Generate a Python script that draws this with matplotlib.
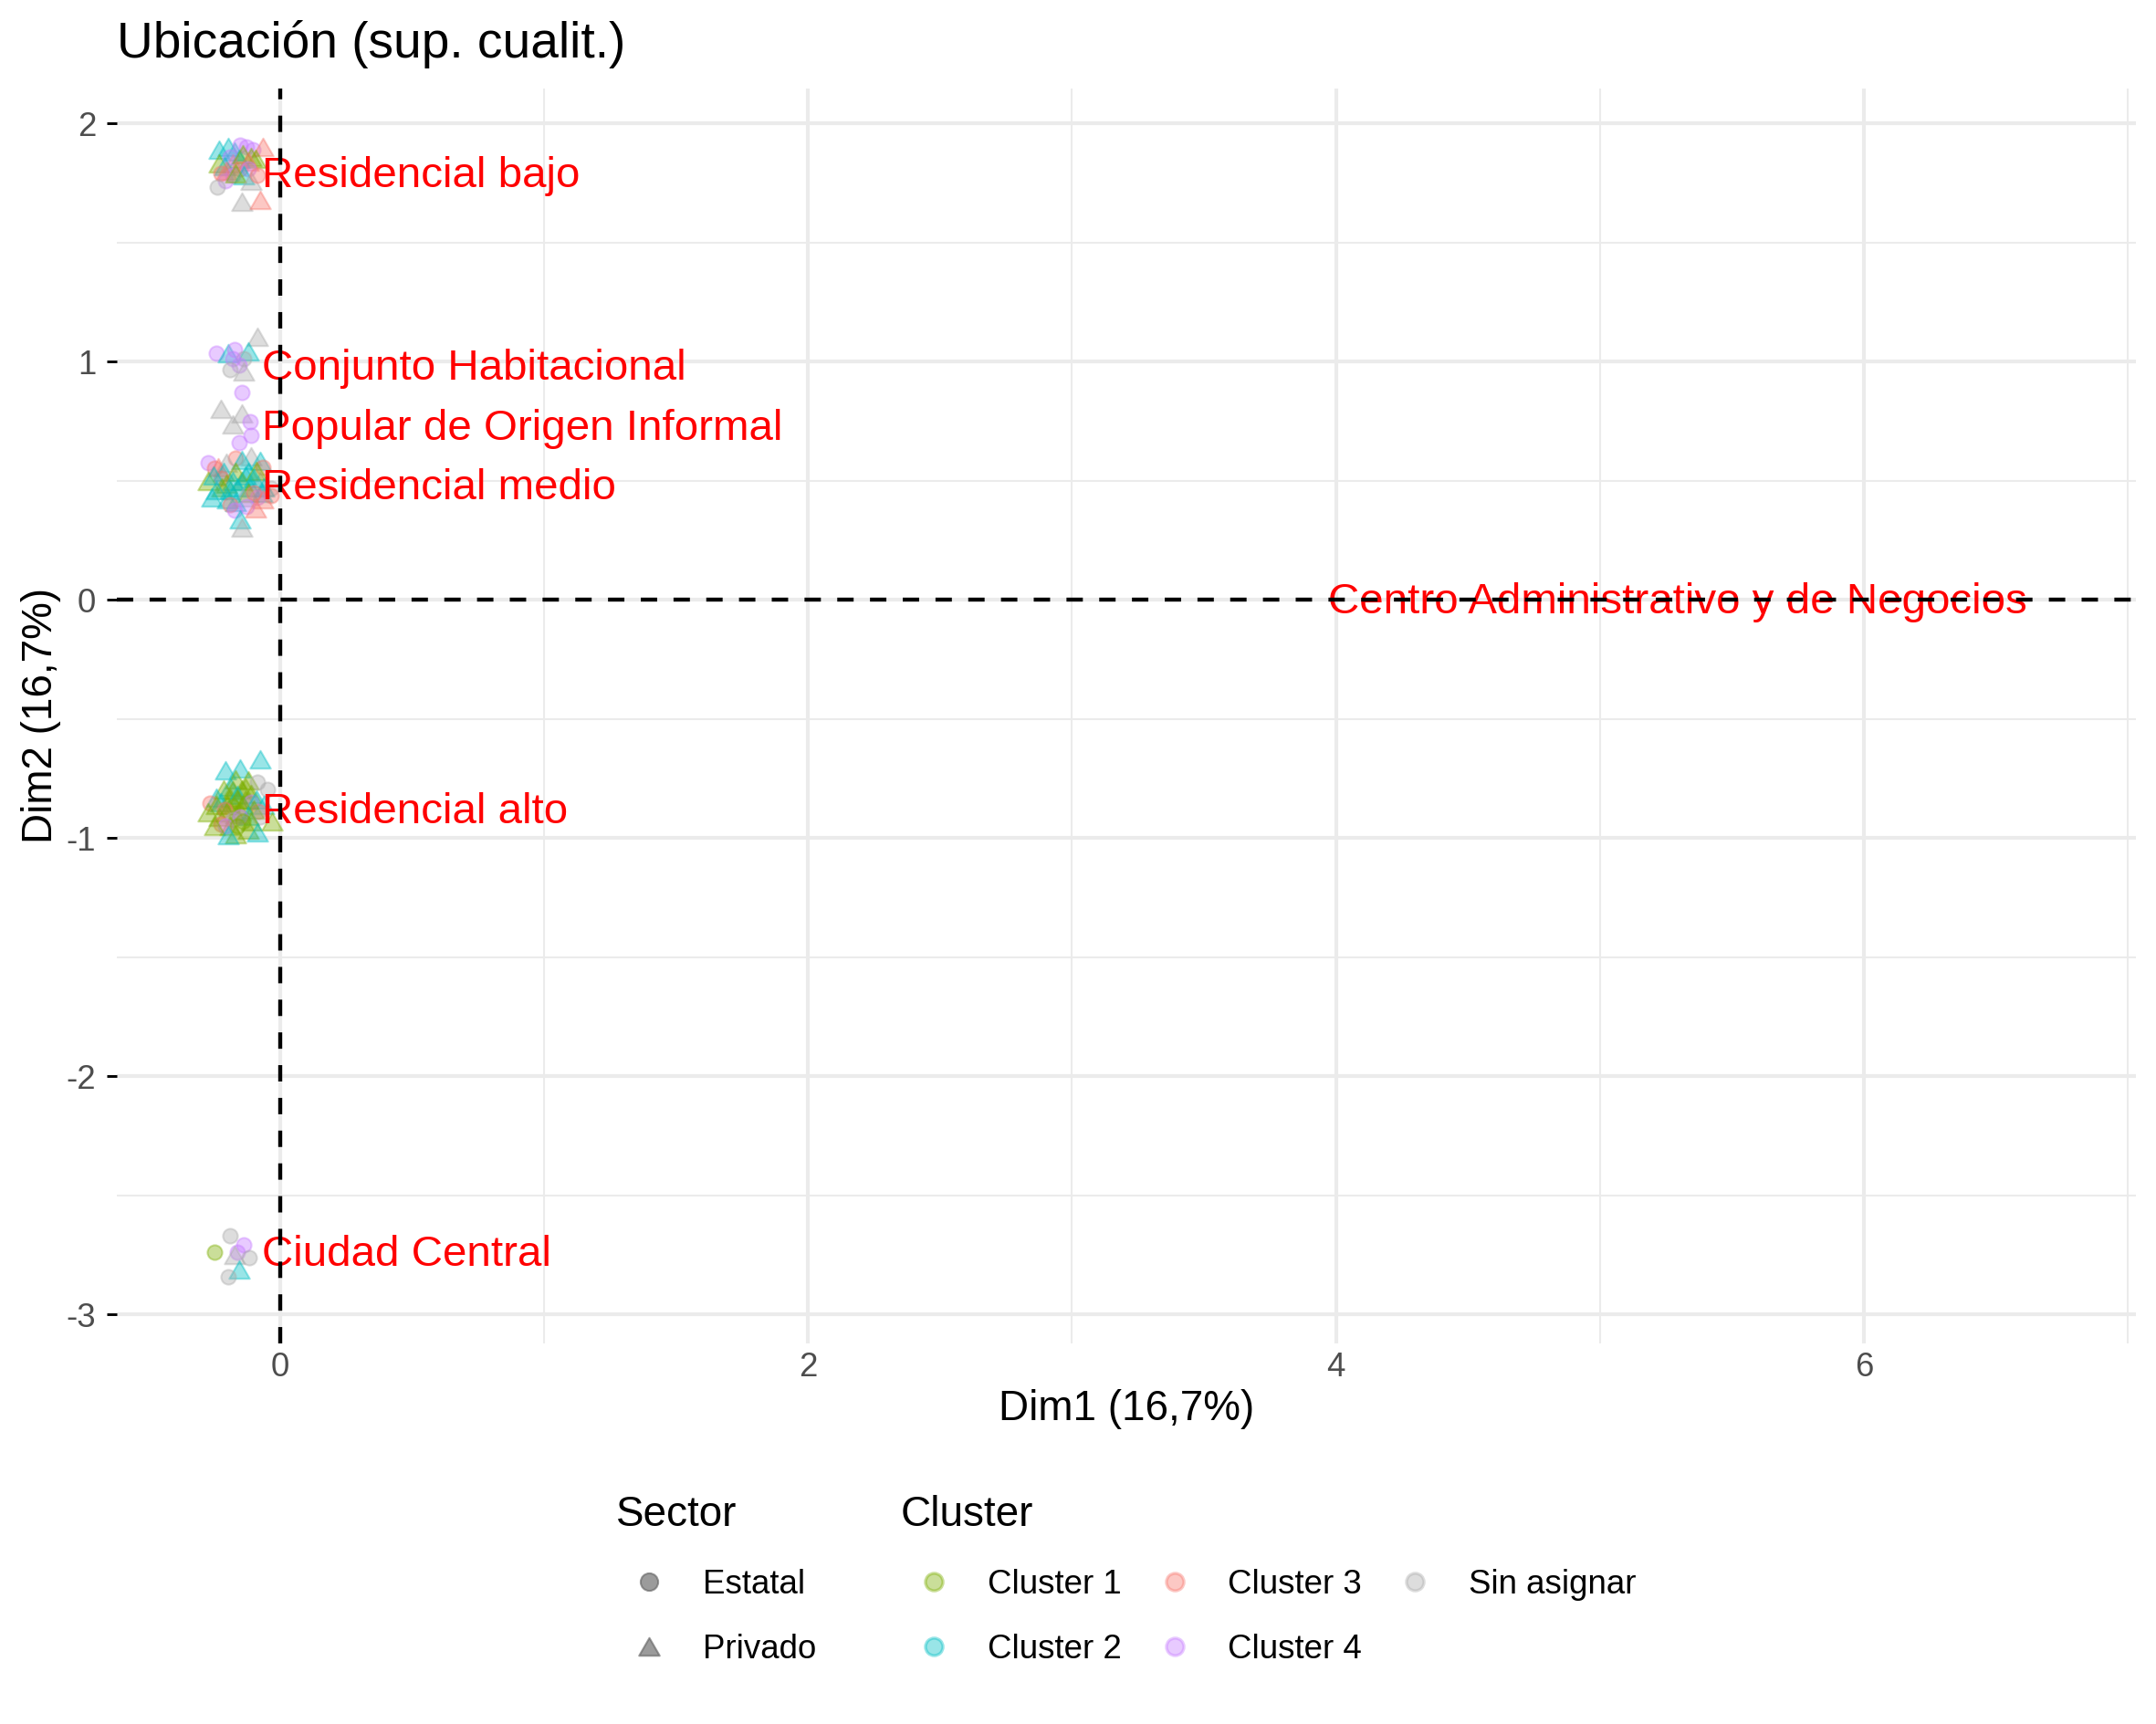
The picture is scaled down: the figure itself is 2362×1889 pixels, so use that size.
import matplotlib
matplotlib.use('Agg')
import matplotlib.pyplot as plt
from matplotlib.lines import Line2D
from matplotlib.path import Path
from matplotlib.ticker import MultipleLocator

plt.rcParams['font.family'] = ['Liberation Sans', 'DejaVu Sans']
plt.rcParams['axes.unicode_minus'] = False

# individuos: (dim1, dim2, cluster, sector)  cluster 0 = sin asignar
pts_bajo = [
    (-0.231, 1.89, 2, 'P'), (-0.196, 1.90, 2, 'P'), (-0.173, 1.88, 2, 'P'),
    (-0.150, 1.91, 4, 'E'), (-0.127, 1.90, 4, 'E'), (-0.104, 1.89, 4, 'E'),
    (-0.064, 1.90, 3, 'P'), (-0.231, 1.83, 1, 'P'), (-0.110, 1.86, 1, 'P'),
    (-0.092, 1.85, 1, 'P'), (-0.156, 1.85, 2, 'P'), (-0.179, 1.83, 3, 'P'),
    (-0.190, 1.86, 4, 'E'), (-0.140, 1.87, 1, 'P'), (-0.120, 1.84, 3, 'P'),
    (-0.210, 1.82, 2, 'P'),
    (-0.202, 1.80, 3, 'P'), (-0.150, 1.81, 3, 'E'), (-0.121, 1.81, 4, 'E'),
    (-0.179, 1.78, 4, 'E'), (-0.208, 1.76, 4, 'E'), (-0.225, 1.79, 3, 'E'),
    (-0.237, 1.73, 0, 'E'), (-0.144, 1.67, 0, 'P'), (-0.075, 1.68, 3, 'P'),
    (-0.138, 1.78, 2, 'P'), (-0.167, 1.79, 1, 'P'), (-0.110, 1.76, 0, 'P'),
    (-0.087, 1.78, 3, 'E'),
]
pts_habit = [
    (-0.086, 1.105, 0, 'P'), (-0.242, 1.035, 4, 'E'), (-0.196, 1.035, 2, 'P'),
    (-0.173, 1.048, 4, 'E'), (-0.121, 1.041, 2, 'P'), (-0.138, 1.010, 0, 'E'),
    (-0.180, 1.010, 4, 'E'), (-0.156, 0.984, 4, 'E'), (-0.190, 0.965, 0, 'E'),
    (-0.138, 0.958, 0, 'P'), (-0.144, 0.869, 4, 'E'), (-0.225, 0.799, 0, 'P'),
    (-0.144, 0.780, 0, 'P'), (-0.179, 0.735, 0, 'P'), (-0.115, 0.748, 4, 'E'),
    (-0.110, 0.690, 4, 'E'), (-0.156, 0.658, 4, 'E'), (-0.271, 0.575, 4, 'E'),
]
pts_medio = [
    (-0.167, 0.594, 3, 'E'), (-0.110, 0.601, 0, 'P'), (-0.144, 0.588, 2, 'P'),
    (-0.075, 0.582, 2, 'P'), (-0.202, 0.575, 0, 'P'), (-0.236, 0.556, 3, 'P'),
    (-0.248, 0.550, 3, 'E'), (-0.064, 0.556, 3, 'E'), (-0.213, 0.537, 2, 'P'),
    (-0.167, 0.537, 1, 'P'), (-0.121, 0.537, 2, 'P'), (-0.225, 0.511, 3, 'E'),
    (-0.271, 0.498, 1, 'P'), (-0.144, 0.498, 1, 'P'), (-0.075, 0.498, 0, 'P'),
    (-0.250, 0.520, 2, 'P'), (-0.130, 0.520, 2, 'P'), (-0.090, 0.540, 1, 'P'),
    (-0.202, 0.486, 1, 'P'), (-0.100, 0.510, 2, 'P'), (-0.180, 0.500, 2, 'P'),
    (-0.220, 0.470, 1, 'P'), (-0.160, 0.470, 2, 'P'), (-0.070, 0.450, 2, 'P'),
    (-0.115, 0.473, 2, 'P'), (-0.033, 0.467, 0, 'E'), (-0.242, 0.460, 2, 'P'),
    (-0.190, 0.460, 2, 'P'), (-0.121, 0.448, 1, 'P'), (-0.060, 0.470, 2, 'P'),
    (-0.035, 0.435, 3, 'E'), (-0.259, 0.429, 2, 'P'), (-0.086, 0.429, 4, 'E'),
    (-0.200, 0.420, 2, 'P'), (-0.140, 0.430, 0, 'P'),
    (-0.064, 0.422, 3, 'P'), (-0.100, 0.450, 3, 'E'), (-0.167, 0.409, 2, 'P'),
    (-0.190, 0.397, 3, 'E'), (-0.127, 0.390, 4, 'E'), (-0.092, 0.384, 3, 'P'),
    (-0.173, 0.377, 4, 'E'), (-0.150, 0.339, 2, 'P'), (-0.144, 0.301, 0, 'P'),
]
pts_alto = [
    (-0.075, -0.670, 2, 'P'), (-0.207, -0.715, 2, 'P'), (-0.150, -0.708, 2, 'P'),
    (-0.167, -0.753, 1, 'P'), (-0.121, -0.759, 1, 'P'), (-0.086, -0.766, 0, 'E'),
    (-0.046, -0.798, 0, 'E'), (-0.190, -0.785, 2, 'P'), (-0.213, -0.798, 1, 'P'),
    (-0.144, -0.798, 1, 'P'), (-0.110, -0.817, 1, 'P'), (-0.190, -0.830, 1, 'P'),
    (-0.130, -0.790, 1, 'P'), (-0.180, -0.800, 1, 'P'), (-0.240, -0.830, 2, 'P'),
    (-0.160, -0.820, 2, 'P'), (-0.130, -0.840, 1, 'P'), (-0.265, -0.855, 3, 'E'),
    (-0.225, -0.849, 2, 'P'), (-0.242, -0.862, 1, 'P'), (-0.110, -0.849, 4, 'E'),
    (-0.160, -0.840, 1, 'P'), (-0.090, -0.840, 2, 'P'), (-0.200, -0.860, 1, 'P'),
    (-0.179, -0.868, 1, 'E'), (-0.060, -0.860, 2, 'P'), (-0.081, -0.887, 3, 'E'),
    (-0.140, -0.860, 1, 'P'), (-0.210, -0.880, 3, 'E'), (-0.170, -0.900, 1, 'P'),
    (-0.271, -0.893, 1, 'P'), (-0.202, -0.893, 1, 'P'), (-0.150, -0.887, 1, 'P'),
    (-0.100, -0.880, 1, 'P'), (-0.121, -0.906, 2, 'P'), (-0.075, -0.912, 0, 'E'),
    (-0.230, -0.910, 1, 'P'), (-0.029, -0.932, 1, 'P'), (-0.179, -0.925, 0, 'E'),
    (-0.150, -0.910, 4, 'E'), (-0.110, -0.930, 1, 'P'), (-0.190, -0.950, 1, 'P'),
    (-0.140, -0.930, 1, 'E'), (-0.225, -0.944, 3, 'E'), (-0.207, -0.951, 4, 'E'),
    (-0.248, -0.951, 1, 'P'), (-0.161, -0.951, 1, 'E'), (-0.121, -0.964, 1, 'P'),
    (-0.167, -0.983, 1, 'P'), (-0.086, -0.977, 2, 'P'), (-0.196, -0.989, 2, 'P'),
]
pts_ciudad = [
    (-0.248, -2.741, 1, 'E'), (-0.190, -2.671, 0, 'E'), (-0.136, -2.707, 4, 'E'),
    (-0.161, -2.739, 4, 'E'), (-0.173, -2.752, 0, 'P'), (-0.118, -2.761, 0, 'E'),
    (-0.156, -2.812, 2, 'P'), (-0.196, -2.841, 0, 'E'),
]

# categorías suplementarias
sup_labels = ['Residencial bajo', 'Conjunto Habitacional', 'Popular de Origen Informal',
              'Residencial medio', 'Centro Administrativo y de Negocios',
              'Residencial alto', 'Ciudad Central']
sup_x = [-0.07, -0.07, -0.07, -0.07, 3.97, -0.07, -0.07]
sup_y = [1.789, 0.981, 0.727, 0.479, 0.0, -0.883, -2.741]

cluster_names = ['Cluster 1', 'Cluster 2', 'Cluster 3', 'Cluster 4', 'Sin asignar']
cluster_colors = {1: '#7CAE00', 2: '#00BFC4', 3: '#F8766D', 4: '#C77CFF', 0: '#AAAAAA'}
sector_names = ['Estatal', 'Privado']

tri = Path([(-1, -0.866), (1, -0.866), (0, 0.866), (-1, -0.866)],
           [Path.MOVETO, Path.LINETO, Path.LINETO, Path.CLOSEPOLY])
markers = {'E': 'o', 'P': tri}
sizes = {'E': 15, 'P': 29}

fig = plt.figure(figsize=(2362 / 300, 1889 / 300), dpi=300)
ax = fig.add_axes([0.0542, 0.2208, 0.9365, 0.7279])

for grupo in [pts_bajo, pts_habit, pts_medio, pts_alto, pts_ciudad]:
    for x, y, cl, sec in grupo:
        ax.scatter(x, y, s=sizes[sec], marker=markers[sec], color=cluster_colors[cl],
                   alpha=0.4, linewidths=0.5, zorder=3)

for lab, x, y in zip(sup_labels, sup_x, sup_y):
    ax.text(x, y - 0.01, lab, color='red', fontsize=11.4, ha='left', va='center', zorder=4)

ax.axhline(0, color='black', lw=1.05, linestyle=(0, (4.1, 4.1)), zorder=5)
ax.axvline(0, color='black', lw=1.05, linestyle=(0, (4.1, 4.1)), zorder=5)

ax.set_xlim(-0.618, 7.03)
ax.set_ylim(-3.122, 2.146)
ax.xaxis.set_major_locator(MultipleLocator(2))
ax.xaxis.set_minor_locator(MultipleLocator(1))
ax.yaxis.set_major_locator(MultipleLocator(1))
ax.yaxis.set_minor_locator(MultipleLocator(0.5))
ax.grid(which='major', color='#EBEBEB', lw=1.0)
ax.grid(which='minor', color='#EBEBEB', lw=0.5)
ax.set_axisbelow(True)
for s in ax.spines.values():
    s.set_visible(False)
ax.tick_params(axis='x', which='both', length=0, pad=2.2, labelsize=8.8, labelcolor='#4D4D4D')
ax.tick_params(axis='y', which='major', length=2.75, width=0.7, color='black', pad=2.75,
               labelsize=8.8, labelcolor='#4D4D4D')
ax.tick_params(axis='y', which='minor', length=0)

ax.set_xlabel('Dim1 (16,7%)', fontsize=11, va='center')
ax.set_ylabel('Dim2 (16,7%)', fontsize=11, va='center')
ax.xaxis.set_label_coords(0.5, -0.0524)
ax.yaxis.set_label_coords(-0.0375, 0.5)

fig.text(0.0542, 0.9666, 'Ubicación (sup. cualit.)', fontsize=13.2, ha='left', va='baseline')

# leyendas
sec_handles = [Line2D([], [], linestyle='', marker=markers[k], markersize=4.6 if k == 'E' else 5.4,
                      color='#666666', alpha=0.65, markeredgewidth=0.5) for k in ['E', 'P']]
leg1 = fig.legend(sec_handles, sector_names, title='Sector', loc='upper left',
                  bbox_to_anchor=(0.278, 0.1426), frameon=False, fontsize=8.8,
                  title_fontsize=11, alignment='left', borderpad=0, labelspacing=1.0,
                  handlelength=1.97, handletextpad=0.62)
cl_handles = [Line2D([], [], linestyle='', marker='o', markersize=4.6,
                     color=cluster_colors[k], alpha=0.4, markeredgewidth=0.8) for k in [1, 2, 3, 4, 0]]
leg2 = fig.legend(cl_handles, cluster_names, title='Cluster', loc='upper left',
                  bbox_to_anchor=(0.41, 0.1426), frameon=False, fontsize=8.8, ncol=3,
                  title_fontsize=11, alignment='left', borderpad=0, labelspacing=1.0,
                  handlelength=1.97, handletextpad=0.62, columnspacing=0.6)

fig.savefig('out.png', dpi=300, facecolor='white')
